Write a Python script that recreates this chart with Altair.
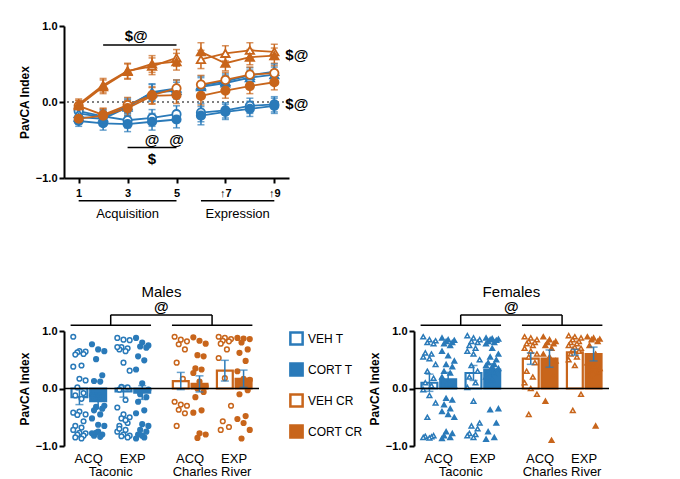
import altair as alt
import pandas as pd

BLUE = "#2a7ab9"
ORANGE = "#c8651b"

# ---------- panel a data ----------
sessions = [1, 2, 3, 4, 5, 6, 7, 8, 9]
series_names = ["Males VEH T (n=28)", "Females VEH T (n=23)",
                "Males CORT T (n=23)", "Females CORT T (n=29)",
                "Males VEH CR (n=13)", "Females VEH CR (n=18)",
                "Males CORT CR (n=18)", "Females CORT CR (n=14)"]
m_veh_t = [-0.12, -0.19, -0.24, -0.21, -0.16, -0.14, -0.11, -0.05, -0.03]
m_cort_t = [-0.25, -0.28, -0.29, -0.26, -0.23, -0.18, -0.13, -0.09, -0.05]
m_veh_cr = [-0.05, -0.17, -0.04, 0.09, 0.18, 0.23, 0.29, 0.36, 0.38]
m_cort_cr = [-0.22, -0.18, -0.08, 0.08, 0.09, 0.08, 0.15, 0.21, 0.26]
f_veh_t = [-0.15, -0.20, -0.05, 0.12, 0.15, 0.20, 0.25, 0.32, 0.36]
f_cort_t = [-0.20, -0.22, -0.07, 0.13, 0.18, 0.22, 0.27, 0.35, 0.40]
f_veh_cr = [-0.03, 0.22, 0.41, 0.47, 0.58, 0.56, 0.64, 0.68, 0.66]
f_cort_cr = [-0.05, 0.20, 0.40, 0.50, 0.53, 0.66, 0.51, 0.59, 0.61]
sem_a = [0.07, 0.09, 0.10, 0.11, 0.11, 0.12, 0.10, 0.10, 0.10]

series_vals = [m_veh_t, f_veh_t, m_cort_t, f_cort_t, m_veh_cr, f_veh_cr, m_cort_cr, f_cort_cr]
series_col = [BLUE, BLUE, BLUE, BLUE, ORANGE, ORANGE, ORANGE, ORANGE]
series_fill = ["white", "white", BLUE, BLUE, "white", "white", ORANGE, ORANGE]
series_shape = ["circle", "triangle-up"] * 4

rows = []
for name, vals in zip(series_names, series_vals):
    for s, v, e in zip(sessions, vals, sem_a):
        rows.append({"series": name, "session": s, "v": v, "lo": v - e, "hi": v + e,
                     "phase": "acq" if s <= 5 else "exp"})
dfa = pd.DataFrame(rows)

sx = alt.X("session:Q", scale=alt.Scale(domain=[0.4, 9.6], nice=False),
           axis=alt.Axis(values=sessions, title=None, grid=False, labelPadding=4,
                         labelExpr="datum.value > 5 ? '↑' + datum.value : datum.value"))
sy = alt.Y("v:Q", scale=alt.Scale(domain=[-1, 1]),
           axis=alt.Axis(values=[-1, -0.5, 0, 0.5, 1], format=".1f", title="PavCA Index", grid=False))
leg = alt.Legend(title=None, columns=2, columnPadding=28, rowPadding=8, labelFontSize=12,
                 symbolSize=90, symbolStrokeWidth=1.8, labelFont="Arial", offset=30)
stroke_enc = alt.Stroke("series:N", scale=alt.Scale(domain=series_names, range=series_col), legend=leg)
fill_enc = alt.Fill("series:N", scale=alt.Scale(domain=series_names, range=series_fill), legend=leg)
shape_enc = alt.Shape("series:N", scale=alt.Scale(domain=series_names, range=series_shape), legend=leg)

base_a = alt.Chart(dfa)
lines = base_a.mark_line(strokeWidth=1.8).encode(x=sx, y=sy, stroke=alt.Stroke("series:N", legend=None,
        scale=alt.Scale(domain=series_names, range=series_col)), detail="phase:N")
errs = base_a.mark_errorbar(ticks=alt.TickConfig(size=7), thickness=1.5).encode(
    x="session:Q", y=alt.Y("lo:Q", title="PavCA Index"), y2="hi:Q",
    color=alt.Color("series:N", scale=alt.Scale(domain=series_names, range=series_col), legend=None))
pts = base_a.mark_point(size=70, strokeWidth=1.8, opacity=1).encode(
    x="session:Q", y="v:Q", stroke=stroke_enc, fill=fill_enc, shape=shape_enc)
zero_a = alt.Chart(pd.DataFrame({"y": [0]})).mark_rule(strokeDash=[2, 3], color="black").encode(y="y:Q")

# annotations for panel a
ann_lines = pd.DataFrame({"x": [2, 3, 1, 6], "x2": [5, 5, 5, 9], "y": [0.75, -0.6, -1.3, -1.3]})
rules_a = alt.Chart(ann_lines).mark_rule(color="black", strokeWidth=1.5, clip=False).encode(
    x="x:Q", x2="x2:Q", y="y:Q")
sig_a = pd.DataFrame({"x": [3.35, 4, 5, 4], "y": [0.87, -0.5, -0.5, -0.75], "t": ["$@", "@", "@", "$"]})
sig_right = pd.DataFrame({"x": [9.45, 9.45], "y": [0.62, -0.03], "t": ["$@", "$@"]})
phase_lbl = pd.DataFrame({"x": [3, 7.5], "y": [-1.48, -1.48], "t": ["Acquisition", "Expression"]})
t1 = alt.Chart(sig_a).mark_text(clip=False, fontSize=15, fontWeight="bold", font="Arial").encode(
    x="x:Q", y="y:Q", text="t:N")
t2 = alt.Chart(sig_right).mark_text(clip=False, align="left", fontSize=15, fontWeight="bold",
                                    font="Arial").encode(x="x:Q", y="y:Q", text="t:N")
t3 = alt.Chart(phase_lbl).mark_text(clip=False, fontSize=13, font="Arial").encode(
    x="x:Q", y="y:Q", text="t:N")
panel_a = alt.layer(zero_a, lines, errs, pts, rules_a, t1, t2, t3).properties(width=225, height=152)

# ---------- panels b and c data ----------
groups = ["VEH T", "CORT T", "VEH CR", "CORT CR"]
xpos = [1.0, 1.85, 3.0, 3.85, 5.6, 6.45, 7.6, 8.45]  # T-ACQ veh,cort | T-EXP | CR-ACQ | CR-EXP
cell_group = ["VEH T", "CORT T", "VEH T", "CORT T", "VEH CR", "CORT CR", "VEH CR", "CORT CR"]

m_means = [-0.15, -0.22, -0.05, -0.07, 0.13, 0.08, 0.31, 0.17]
m_sems = [0.13, 0.13, 0.10, 0.12, 0.15, 0.14, 0.18, 0.15]
f_means = [0.10, 0.16, 0.27, 0.33, 0.52, 0.52, 0.63, 0.60]
f_sems = [0.15, 0.12, 0.13, 0.10, 0.10, 0.15, 0.05, 0.12]

m_pts = [
    [0.9, 0.65, 0.64, 0.63, 0.6, 0.59, 0.4, 0.38, 0.17, 0.14, 0.02, -0.08, -0.12, -0.18,
     -0.42, -0.4, -0.45, -0.46, -0.57, -0.65, -0.68, -0.72, -0.77, -0.78, -0.8, -0.82, -0.85, -0.87],
    [0.77, 0.68, 0.65, 0.51, 0.23, 0.13, 0.12, -0.12, -0.14, -0.3, -0.32, -0.35, -0.38, -0.45,
     -0.52, -0.63, -0.65, -0.77, -0.8, -0.82, -0.84, -0.78, -0.75],
    [0.88, 0.85, 0.84, 0.72, 0.7, 0.68, 0.65, 0.72, 0.45, 0.31, 0.03, 0.02, -0.02, -0.2, -0.33,
     -0.45, -0.5, -0.52, -0.6, -0.65, -0.72, -0.75, -0.8, -0.82, -0.83, -0.85, -0.7, -0.55],
    [0.88, 0.8, 0.75, 0.73, 0.71, 0.56, 0.49, 0.33, 0.09, -0.02, -0.1, -0.15, -0.23, -0.38,
     -0.43, -0.62, -0.65, -0.72, -0.75, -0.8, -0.85, -0.87, -0.82],
    [0.9, 0.85, 0.82, 0.77, 0.68, 0.45, 0.17, -0.23, -0.28, -0.3, -0.37, -0.43, -0.65],
    [0.89, 0.83, 0.78, 0.58, 0.56, 0.35, 0.33, 0.27, 0.12, 0.04, 0.0, -0.06, -0.15, -0.38,
     -0.42, -0.78, -0.8, -0.86],
    [0.9, 0.88, 0.86, 0.83, 0.82, 0.78, 0.68, 0.53, 0.18, -0.3, -0.57, -0.67, -0.72],
    [0.88, 0.87, 0.86, 0.8, 0.68, 0.62, 0.48, 0.3, 0.17, 0.15, 0.13, -0.03, -0.1, -0.48, -0.53,
     -0.6, -0.72, -0.87],
]
f_pts = [
    [0.9, 0.85, 0.83, 0.8, 0.78, 0.62, 0.6, 0.55, 0.52, 0.42, 0.3, 0.18, 0.1, 0.05, -0.02,
     -0.12, -0.25, -0.5, -0.82, -0.83, -0.84, -0.85, -0.86],
    [0.88, 0.85, 0.84, 0.82, 0.8, 0.78, 0.75, 0.65, 0.57, 0.48, 0.42, 0.38, 0.3, 0.27, 0.2,
     0.12, 0.05, -0.17, -0.2, -0.28, -0.35, -0.4, -0.45, -0.5, -0.75, -0.78, -0.82, -0.85, -0.87],
    [0.92, 0.88, 0.85, 0.82, 0.8, 0.75, 0.7, 0.65, 0.6, 0.5, 0.4, 0.3, 0.2, 0.1, 0.02, -0.22,
     -0.6, -0.65, -0.7, -0.78, -0.8, -0.82, -0.85],
    [0.88, 0.87, 0.86, 0.85, 0.84, 0.82, 0.8, 0.78, 0.7, 0.6, 0.55, 0.5, 0.45, 0.42, 0.4, 0.38,
     0.35, 0.32, 0.3, 0.28, 0.25, 0.2, 0.15, -0.35, -0.37, -0.6, -0.75, -0.85, -0.88],
    [0.9, 0.88, 0.85, 0.82, 0.8, 0.78, 0.75, 0.7, 0.65, 0.6, 0.55, 0.45, 0.3, 0.2, 0.1, 0.0,
     -0.1, -0.45],
    [0.9, 0.85, 0.82, 0.8, 0.78, 0.75, 0.7, 0.6, 0.55, 0.48, 0.4, 0.22, -0.22, -0.9],
    [0.92, 0.9, 0.88, 0.85, 0.82, 0.8, 0.78, 0.75, 0.72, 0.7, 0.68, 0.65, 0.6, 0.55, 0.5, 0.4,
     -0.1, -0.38],
    [0.9, 0.88, 0.86, 0.85, 0.82, 0.75, 0.6, 0.45, 0.4, 0.35, 0.3, 0.25, 0.22, -0.65],
]

cat_labels = pd.DataFrame({"x": [1.42, 3.42, 6.02, 8.02, 2.42, 7.02],
                           "y": [-1.22, -1.22, -1.22, -1.22, -1.45, -1.45],
                           "t": ["ACQ", "EXP", "ACQ", "EXP", "Taconic", "Charles River"]})
bracket = pd.DataFrame({"x": [0.6, 5.2, 2.42, 7.02, 2.42], "x2": [4.25, 8.85, 2.42, 7.02, 7.02],
                        "y": [1.1, 1.1, 1.1, 1.1, 1.28], "y2": [1.1, 1.1, 1.28, 1.28, 1.28]})
grp_col = [BLUE, BLUE, ORANGE, ORANGE]
grp_fill = ["white", BLUE, "white", ORANGE]


def bar_panel(means, sems, pts_lists, shape, title, show_legend):
    bars = pd.DataFrame({"grp": cell_group, "x": xpos, "m": means,
                         "lo": [m - s for m, s in zip(means, sems)],
                         "hi": [m + s for m, s in zip(means, sems)]})
    bars["x0"] = bars["x"] - 0.36
    bars["x1"] = bars["x"] + 0.36
    prow = []
    for k, vals in enumerate(pts_lists):
        for i, v in enumerate(vals):
            j = ((i * 3) % 7 - 3) / 3.0  # spread points across the bar
            prow.append({"grp": cell_group[k], "x": xpos[k] + 0.28 * j, "v": v})
    dfp = pd.DataFrame(prow)
    xs = alt.X("x0:Q", scale=alt.Scale(domain=[0.3, 9.15], nice=False), axis=None)
    ys = alt.Y("m:Q", scale=alt.Scale(domain=[-1, 1]),
               axis=alt.Axis(values=[-1, -0.5, 0, 0.5, 1], format=".1f", title="PavCA Index",
                             grid=False, domainWidth=2))
    lg = alt.Legend(title=None, labelFontSize=12, symbolType="square", symbolSize=150,
                    symbolStrokeWidth=2.5, rowPadding=8, offset=30, labelFont="Arial") if show_legend else None
    b = alt.Chart(bars).mark_bar(strokeWidth=2.2).encode(
        x=xs, x2="x1:Q", y=ys, y2=alt.datum(0),
        stroke=alt.Stroke("grp:N", scale=alt.Scale(domain=groups, range=grp_col), legend=lg),
        fill=alt.Fill("grp:N", scale=alt.Scale(domain=groups, range=grp_fill), legend=lg))
    e = alt.Chart(bars).mark_errorbar(ticks=alt.TickConfig(size=8), thickness=1.5).encode(
        x="x:Q", y=alt.Y("lo:Q", title="PavCA Index"), y2="hi:Q",
        color=alt.Color("grp:N", scale=alt.Scale(domain=groups, range=grp_col), legend=None))
    p = alt.Chart(dfp).mark_point(shape=shape, size=22, strokeWidth=1.5, opacity=1).encode(
        x="x:Q", y="v:Q",
        stroke=alt.Stroke("grp:N", scale=alt.Scale(domain=groups, range=grp_col), legend=None),
        fill=alt.Fill("grp:N", scale=alt.Scale(domain=groups, range=grp_fill), legend=None))
    z = alt.Chart(pd.DataFrame({"y": [0]})).mark_rule(color="black", strokeWidth=1.5).encode(y="y:Q")
    br = alt.Chart(bracket).mark_rule(color="black", strokeWidth=1.5, clip=False).encode(
        x="x:Q", x2="x2:Q", y="y:Q", y2="y2:Q")
    at = alt.Chart(pd.DataFrame({"x": [4.72], "y": [1.42], "t": ["@"]})).mark_text(
        clip=False, fontSize=15, fontWeight="bold", font="Arial").encode(x="x:Q", y="y:Q", text="t:N")
    tt = alt.Chart(pd.DataFrame({"x": [4.72], "y": [1.68], "t": [title]})).mark_text(
        clip=False, fontSize=15, font="Arial").encode(x="x:Q", y="y:Q", text="t:N")
    cl = alt.Chart(cat_labels).mark_text(clip=False, fontSize=13, font="Arial").encode(
        x="x:Q", y="y:Q", text="t:N")
    return alt.layer(b, p, e, z, br, at, tt, cl).properties(width=195, height=115)


panel_b = bar_panel(m_means, m_sems, m_pts, "circle", "Males", True)
panel_c = bar_panel(f_means, f_sems, f_pts, "triangle-up", "Females", False)

bottom = alt.hconcat(panel_b, panel_c, spacing=5).resolve_scale(stroke="independent", fill="independent")
chart = alt.vconcat(panel_a, bottom, spacing=62).configure_view(stroke=None).configure_axis(
    domainColor="black", domainWidth=2, tickColor="black", tickWidth=2, tickSize=5,
    labelColor="black", labelFontWeight="bold", labelFontSize=11, labelFont="Arial",
    titleFont="Arial", titleFontSize=12, titleFontWeight="bold", titleColor="black"
).properties(padding={"left": 10, "top": 12, "right": 5, "bottom": 5})

chart.save("out.html", embed_options={"renderer": "svg", "actions": False})
